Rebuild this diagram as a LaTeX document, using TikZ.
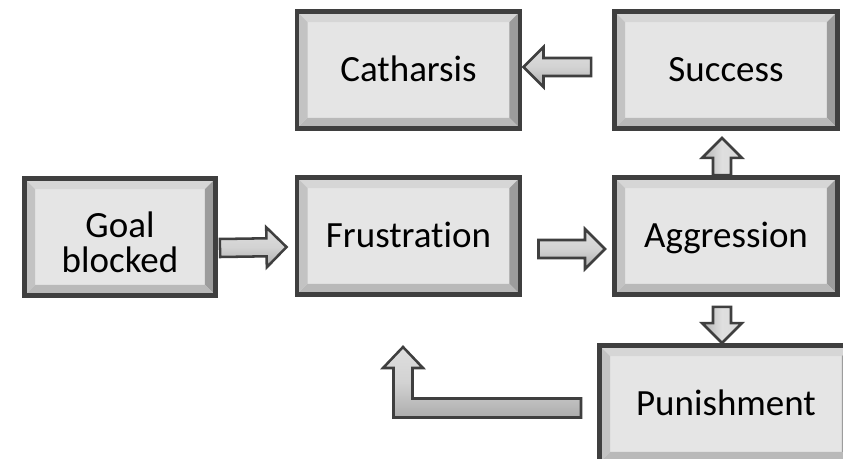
\documentclass[tikz,border=0pt]{standalone}
\usepackage{fontspec}
\setmainfont{Carlito}[Ligatures=NoCommon]
\usetikzlibrary{calc}
\definecolor{bxline}{HTML}{3F3F3F}
\definecolor{bxface}{HTML}{E5E5E5}
\definecolor{bvtop}{HTML}{D6D6D6}
\definecolor{bvleft}{HTML}{C3C3C3}
\definecolor{bvright}{HTML}{9C9C9C}
\definecolor{bvbottom}{HTML}{B9B9B9}
\newcommand\blockarrow[3][]{%
\coordinate (hb) at ($(#3)!.5cm!(#2)$);
\filldraw[arrowbody,#1] ($(#2)!.225cm!90:(#3)$)--($(hb)!.225cm!90:(#3)$)--($(hb)!.5cm!90:(#3)$)--(#3)
  --($(hb)!.5cm!-90:(#3)$)--($(hb)!.225cm!-90:(#3)$)--($(#2)!.225cm!-90:(#3)$)--cycle;
}
\begin{document}
\begin{tikzpicture}[x=.025cm, y=-.025cm,
    box/.style={draw=bxline, line width=3.5pt, fill=bxface, minimum width=5.575cm,
      minimum height=2.925cm, align=center, inner sep=0pt, font=\fontsize{26.3}{25}\selectfont,
      path picture={
        \path (path picture bounding box.south west) coordinate (pa) ++(7.5pt,7.5pt) coordinate (ia)
              (path picture bounding box.north east) coordinate (pb) ++(-7.5pt,-7.5pt) coordinate (ib);
        \fill[bvtop] (pa|-pb)--(pb)--(ib)--(ia|-ib)--cycle;
        \fill[bvright] (pb)--(pb|-pa)--(ib|-ia)--(ib)--cycle;
        \fill[bvbottom] (pa)--(pb|-pa)--(ib|-ia)--(ia)--cycle;
        \fill[bvleft] (pa)--(pa|-pb)--(ia|-ib)--(ia)--cycle;
      }},
    oneline/.style={box, text height=17pt, text depth=0pt},
    arrowbody/.style={draw=bxline, line width=1.8pt, line join=miter},
    harrow/.style={top color=gray!25, bottom color=gray!65, middle color=gray!35},
    varrow/.style={left color=gray!60, right color=gray!30, middle color=gray!25}]
\useasboundingbox (0,0) rectangle (843,459);

\node[box, minimum width=4.775cm] (goal) at (120,237) {\rule{0pt}{26pt}Goal\\blocked};
\node[oneline] (frust) at (408.5,236) {Frustration};
\node[oneline] (aggr) at (726,236) {Aggression};
\node[oneline] (cath) at (408.5,70) {Catharsis};
\node[oneline] (succ) at (726,70) {Success};
\node[oneline, minimum width=6.325cm] (punish) at (726,404) {Punishment};

\coordinate (g1) at ($(goal.east)+(2,11)$);
\coordinate (f1) at ($(frust.west)+(-8,11)$);
\coordinate (f2) at ($(frust.east)+(16,13)$);
\coordinate (a1) at ($(aggr.west)+(-7,13)$);
\coordinate (s1) at ($(succ.west)+(-21,-3)$);
\coordinate (c1) at ($(cath.east)+(1,-3)$);
\coordinate (a2) at ($(aggr.north)+(-4,0)$);
\coordinate (s2) at ($(succ.south)+(-4,7)$);
\coordinate (a3) at ($(aggr.south)+(-4,10)$);
\coordinate (p1) at ($(punish.north)+(-4,0)$);

\blockarrow[harrow]{g1}{f1}
\blockarrow[harrow]{f2}{a1}
\blockarrow[harrow]{s1}{c1}
\blockarrow[varrow]{a2}{s2}
\blockarrow[varrow]{a3}{p1}

\coordinate (lstart) at ($(punish.west)+(-16,4)$);
\coordinate (ltip) at (403,347);
\filldraw[arrowbody, harrow] ($(lstart)+(0,-9.5)$)--($(ltip|-lstart)+(9.5,-9.5)$)--($(ltip)+(9.5,21)$)
  --($(ltip)+(20,21)$)--(ltip)--($(ltip)+(-20,21)$)--($(ltip)+(-9.5,21)$)
  --($(ltip|-lstart)+(-9.5,9.5)$)--($(lstart)+(0,9.5)$)--cycle;
\end{tikzpicture}
\end{document}
